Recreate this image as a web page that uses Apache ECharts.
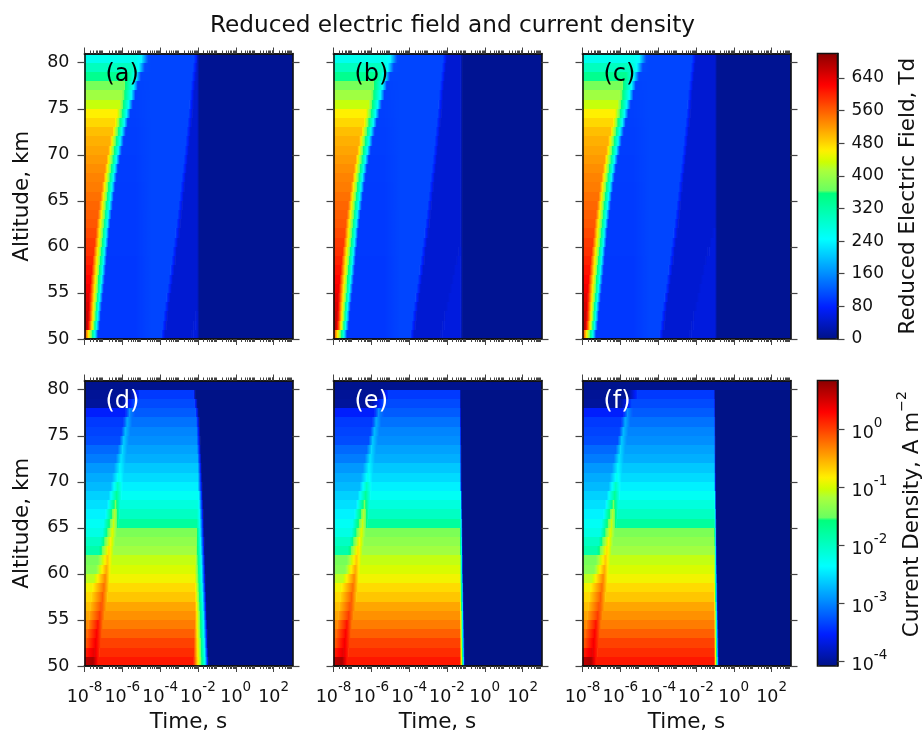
<!DOCTYPE html>
<html>
<head>
<meta charset="utf-8">
<title>Reduced electric field and current density</title>
<script src="https://cdn.jsdelivr.net/npm/echarts@6/dist/echarts.min.js"></script>
<style>
  html, body { margin: 0; padding: 0; background: #fff; }
  #chart { width: 922px; height: 730px; }
</style>
</head>
<body>
<div id="chart"></div>
<script>
// ---------- data, one entry per 1 km altitude band (lower edge) ---------- //
const altitudes = [50,51,52,53,54,55,56,57,58,59,60,61,62,63,64,65,66,67,68,69,70,71,72,73,74,75,76,77,78,79,80];

// reduced electric field, Td. Time is log10(seconds)
const fieldPlateau = [570,665,655,648,640,630,620,610,600,590,585,575,565,560,555,548,540,535,528,520,512,505,495,478,462,430,405,375,340,300,260];
const fieldFrontStart = [-7.95,-7.85,-7.8,-7.78,-7.75,-7.72,-7.68,-7.62,-7.58,-7.52,-7.46,-7.4,-7.35,-7.28,-7.22,-7.15,-7.08,-7.0,-6.92,-6.84,-6.74,-6.64,-6.52,-6.4,-6.28,-6.15,-6.05,-5.9,-5.7,-5.5,-5.35];
const fieldFrontCyan = [-7.45,-7.36,-7.3,-7.26,-7.2,-7.15,-7.1,-7.05,-7.0,-6.96,-6.9,-6.86,-6.8,-6.75,-6.68,-6.62,-6.55,-6.48,-6.4,-6.32,-6.22,-6.12,-6.02,-5.9,-5.78,-5.66,-5.52,-5.4,-5.28,-5.12,-5.0];
const fieldFrontEnd = [-7.3,-7.22,-7.16,-7.12,-7.06,-7.01,-6.96,-6.91,-6.86,-6.82,-6.76,-6.72,-6.66,-6.6,-6.53,-6.47,-6.4,-6.33,-6.25,-6.16,-6.06,-5.96,-5.85,-5.73,-5.6,-5.48,-5.33,-5.2,-5.05,-4.85,-4.68];
const fieldAfterFront = [96,96,96,96,96,96,96,96,96,97,97,97,97,97,98,98,98,99,99,99,100,100,100,101,102,102,103,104,106,110,114];
const fieldStepOne = [-3.95,-3.88,-3.82,-3.75,-3.68,-3.6,-3.54,-3.47,-3.4,-3.34,-3.27,-3.2,-3.14,-3.08,-3.03,-2.97,-2.92,-2.86,-2.8,-2.75,-2.7,-2.65,-2.6,-2.55,-2.5,-2.46,-2.42,-2.37,-2.32,-2.27,-2.22];
const fieldWedge = [-2.35,-2.25,-2.15,-2.05,-1.95,-1.85,-1.75,-1.65,-1.52,-1.4,-1.28,-1.15,-1.02];
const fieldStepTwo = [-2.05, -1.3, -1.0];
const fieldMiddle = 106;
const fieldShelf = 48;
const fieldWedgeTop = 56;
const fieldTail = 7;

// current density, log10(A m-2)
const currentLeft = [0.6,0.15,-0.1,-0.2,-0.35,-0.48,-0.6,-0.73,-0.88,-1.1,-1.38,-1.45,-1.85,-2.0,-2.2,-2.3,-2.42,-2.52,-2.6,-2.72,-2.8,-2.9,-3.05,-3.15,-3.3,-3.35,-3.4,-3.55,-4.0,-4.02,-4.05];
const currentStreakStart = [-8,-7.95,-7.9,-7.85,-7.8,-7.75,-7.7,-7.65,-7.6,-7.5,-7.4,-7.3,-7.25,-7.15,-7.05,-7.0,-6.9,-6.8,-6.72,-6.62,-6.55,-6.45,-6.35,-6.25,-6.15,-6.05,-5.95,-5.85,-6.0,-5.6];
const currentStreakPeak = [-7.55,-7.48,-7.42,-7.36,-7.3,-7.2,-7.12,-7.05,-6.98,-6.92,-6.86,-6.8,-6.72,-6.64,-6.55,-6.47,-6.41,-6.37,-6.31,-6.26,-6.2,-6.14,-6.08,-6.01,-5.94,-5.86,-5.76,-5.64,-5.4,-5.1];
const currentPeak = [0.72,0.45,0.38,0.33,0.25,0.05,-0.05,-0.12,-0.2,-0.3,-0.45,-0.6,-0.7,-0.8,-0.9,-1.0,-1.1,-1.4,-1.7,-1.95,-2.25,-2.38,-2.48,-2.55,-2.62,-2.7,-2.78,-2.95,-3.31,-3.4];
const currentStreakEnd = [-7.3,-7.22,-7.16,-7.1,-7.04,-6.95,-6.87,-6.8,-6.73,-6.67,-6.61,-6.55,-6.47,-6.39,-6.3,-6.22,-6.17,-6.13,-6.06,-6.0,-5.94,-5.88,-5.82,-5.76,-5.68,-5.6,-5.5,-5.38,-5.4,-5.1];
const currentPlateau = [0.2,0.1,0,-0.14,-0.28,-0.38,-0.48,-0.63,-0.73,-0.88,-0.98,-1.07,-1.22,-1.32,-1.42,-1.77,-2.0,-2.16,-2.3,-2.43,-2.55,-2.65,-2.78,-2.85,-2.95,-3.0,-3.1,-3.22,-3.31,-3.4,-4.05];
const currentFloor = -4.086;

// where the current is cut off in (d), (e) and (f)
const cutStartD = [-2.25,-2.24,-2.22,-2.2,-2.18,-2.16,-2.16,-2.16,-2.16,-2.16,-2.16,-2.14,-2.12,-2.1,-2.08,-2.07,-2.05,-2.03,-2.02,-2.01,-2.0,-2.01,-2.03,-2.05,-2.07,-2.08,-2.1,-2.14,-2.2,-2.25];
const cutMidD = [-1.63,-1.65,-1.67,-1.69,-1.7,-1.72,-1.74,-1.76,-1.78,-1.8,-1.81,-1.83,-1.85,-1.87,-1.89,-1.9,-1.92,-1.94,-1.95];
const cutEndD = [-1.46,-1.48,-1.5,-1.51,-1.53,-1.55,-1.57,-1.58,-1.6,-1.62,-1.63,-1.64,-1.66,-1.67,-1.69,-1.7,-1.72,-1.74,-1.76,-1.78,-1.8,-1.82,-1.84,-1.86,-1.88,-1.9,-1.93,-1.97,-2.03,-2.15];
const cutStartE = [-1.32,-1.32,-1.32,-1.32,-1.32,-1.32,-1.32,-1.32,-1.32,-1.32,-1.32,-1.32,-1.32,-1.32,-1.32,-1.32,-1.32,-1.32,-1.32,-1.32,-1.32,-1.32,-1.32,-1.32,-1.32,-1.32,-1.32,-1.32,-1.32,-1.32];
const cutMidE = [-1.14,-1.15,-1.16,-1.17,-1.17,-1.18,-1.19,-1.2,-1.2,-1.21,-1.22,-1.22,-1.23,-1.24,-1.25,-1.25,-1.26,-1.26,-1.27];
const cutEndE = [-1.07,-1.08,-1.09,-1.1,-1.11,-1.12,-1.13,-1.14,-1.15,-1.16,-1.17,-1.17,-1.18,-1.19,-1.19,-1.2,-1.21,-1.22,-1.22,-1.23,-1.24,-1.24,-1.25,-1.25,-1.26,-1.26,-1.27,-1.27,-1.28,-1.28];
const cutStartF = [-1.04,-1.04,-1.04,-1.04,-1.04,-1.04,-1.04,-1.04,-1.04,-1.04,-1.04,-1.04,-1.04,-1.04,-1.04,-1.04,-1.04,-1.04,-1.04,-1.04,-1.04,-1.04,-1.04,-1.04,-1.04,-1.04,-1.04,-1.04,-1.04,-1.04];
const cutMidF = [-0.88,-0.89,-0.9,-0.91,-0.91,-0.92,-0.93,-0.94,-0.94,-0.95,-0.96,-0.96,-0.97,-0.98,-0.98,-0.99,-0.99,-1.0,-1.0];
const cutEndF = [-0.8,-0.81,-0.82,-0.83,-0.84,-0.85,-0.86,-0.87,-0.88,-0.89,-0.9,-0.91,-0.91,-0.92,-0.93,-0.93,-0.94,-0.95,-0.95,-0.96,-0.96,-0.97,-0.97,-0.98,-0.98,-0.99,-0.99,-1.0,-1.0,-1.01];

// axes
const timeTicks = [-8,-6,-4,-2,0,2];
const altitudeTicks = [50,55,60,65,70,75,80];
const fieldTicks = [0,80,160,240,320,400,480,560,640];
const currentTicks = [-4,-3,-2,-1,0];
const panelNames = ['(a)','(b)','(c)','(d)','(e)','(f)'];

// colour map: jet with the jump in the green the original has
const mapPositions = [0, 0.11, 0.35, 0.513, 0.514, 0.59, 0.62, 0.66, 0.89, 1];
const mapColors = [[0,18,135],[0,30,255],[0,255,255],[0,255,122],[100,255,100],[170,255,60],[205,255,0],[255,240,0],[255,0,0],[140,0,0]];

const FONT = 'DejaVu Sans';
const DARK = '#111';
const TICK = '#444';

// ----------------- functions ----------------- //
const mapColor = (p) => {
  p = Math.min(1, Math.max(0, p));
  let i = 0;
  while (i < mapPositions.length - 2 && p > mapPositions[i + 1]) i++;
  const k = (p - mapPositions[i]) / (mapPositions[i + 1] - mapPositions[i]);
  const c = mapColors[i].map((a, j) => Math.round(a + (mapColors[i + 1][j] - a) * k));
  return 'rgb(' + c.join(',') + ')';
};

// samples for the colorbars only
const rampColors = [];
for (let s = 0; s <= 280; s++) rampColors.push(mapColor(s / 280));

const fieldStops = (i, stepTwo) => {
  const s = [-8, fieldPlateau[i], fieldFrontStart[i], fieldPlateau[i], fieldFrontCyan[i], 240, fieldFrontEnd[i], fieldAfterFront[i]];
  if (fieldFrontEnd[i] < -5.3) s.push(-5.3, fieldAfterFront[i]);
  s.push(-4.5, fieldMiddle);
  s.push(fieldStepOne[i], fieldMiddle, fieldStepOne[i] + 0.2, fieldShelf);
  const w = fieldWedge[i];
  if (w !== undefined && w < stepTwo - 0.05) {
    s.push(w, fieldShelf, w + 0.1, fieldWedgeTop, stepTwo, fieldWedgeTop);
  } else {
    s.push(stepTwo, fieldShelf);
  }
  s.push(stepTwo + 0.1, fieldTail, 3, fieldTail);
  return s;
};

const currentStops = (i, cutStart, cutMid, cutEnd) => {
  if (cutStart[i] === undefined) return [-8, currentPlateau[i], 3, currentPlateau[i]];
  const s = [-8, currentLeft[i]];
  if (currentStreakPeak[i] !== undefined) {
    if (currentStreakStart[i] > -8) s.push(currentStreakStart[i], currentLeft[i]);
    s.push(currentStreakPeak[i], currentPeak[i]);
    s.push(currentStreakEnd[i], currentPlateau[i]);
  }
  s.push(cutStart[i], currentPlateau[i]);
  if (cutMid[i] !== undefined) s.push(cutMid[i], -2.4);
  s.push(cutEnd[i], currentFloor, 3, currentFloor);
  return s;
};

// stops of each band -> [t0, t1, altitude, v0, v1]
const toCells = (stopsOf) => {
  const cells = [];
  altitudes.forEach((alt, i) => {
    const s = stopsOf(i);
    for (let k = 0; k + 3 < s.length; k += 2) {
      cells.push([s[k], s[k + 2], alt, s[k + 1], s[k + 3]]);
    }
  });
  return cells;
};

const renderBand = (lo, hi) => (params, api) => {
  const a = api.coord([api.value(0), api.value(2) + 1]);
  const b = api.coord([api.value(1), api.value(2)]);
  const v0 = api.value(3);
  const v1 = api.value(4);
  const colorStops = [];
  for (let n = 0; n <= 16; n++) {
    const v = v0 + (v1 - v0) * n / 16;
    colorStops.push({ offset: n / 16, color: mapColor((v - lo) / (hi - lo)) });
  }
  const y0 = Math.round(a[1]);
  const y1 = Math.round(b[1]);
  return {
    type: 'rect',
    shape: { x: a[0], y: y0, width: b[0] - a[0] + 0.6, height: y1 - y0 },
    style: { fill: { type: 'linear', x: 0, y: 0, x2: 1, y2: 0, colorStops: colorStops } },
    silent: true
  };
};

const timeLabel = (v) => '{b|10}{s|' + Math.round(v) + '}';
const labelRich = {
  b: { fontFamily: FONT, fontSize: 17.5, color: DARK, verticalAlign: 'bottom', lineHeight: 26 },
  s: { fontFamily: FONT, fontSize: 13.5, color: DARK, verticalAlign: 'top', lineHeight: 14 }
};

// minor ticks at 2..9 of every decade
const minorTime = [];
for (let d = -8; d < 3; d++) {
  [2,3,4,5,6,7,8,9].forEach((m) => minorTime.push(d + Math.log10(m)));
}

// ----------------- layout ----------------- //
const lefts = [84.5, 333.5, 582.5];
const tops = [53.5, 380.5];
const grid = [];
const xAxis = [];
const yAxis = [];
const series = [];
const title = [{
  text: 'Reduced electric field and current density',
  left: 447.5, top: 9, textAlign: 'center',
  textStyle: { fontFamily: FONT, fontSize: 23.2, fontWeight: 'normal', color: DARK }
}];

const frameLine = { show: true, onZero: false, lineStyle: { color: DARK, width: 1.6 } };
const timeAxis = (gridIndex, position, major, withLabels) => ({
  type: 'value', gridIndex, position, min: -8, max: 3,
  z: 10,
  axisLine: frameLine,
  splitLine: { show: false },
  axisTick: {
    show: true, customValues: major ? timeTicks : minorTime, length: major ? 6 : 3,
    lineStyle: { color: TICK, width: 1 }
  },
  axisLabel: withLabels
    ? { show: true, customValues: timeTicks, formatter: timeLabel, rich: labelRich, margin: 14 }
    : { show: false },
  name: withLabels ? 'Time, s' : '',
  nameLocation: 'middle',
  nameGap: 45,
  nameTextStyle: { fontFamily: FONT, fontSize: 21.5, color: DARK }
});

const altitudeAxis = (gridIndex, position, withLabels) => ({
  type: 'value', gridIndex, position, min: 50, max: 81,
  z: 10,
  axisLine: frameLine,
  splitLine: { show: false },
  axisTick: { show: true, customValues: altitudeTicks, length: 7, lineStyle: { color: TICK, width: 1.2 } },
  axisLabel: withLabels
    ? { show: true, customValues: altitudeTicks, fontFamily: FONT, fontSize: 17.5, color: DARK, margin: 15 }
    : { show: false },
  name: withLabels ? 'Altitude, km' : '',
  nameLocation: 'middle',
  nameGap: 51,
  nameTextStyle: { fontFamily: FONT, fontSize: 21.5, color: DARK }
});

panelNames.forEach((name, p) => {
  const col = p % 3;
  const row = p < 3 ? 0 : 1;
  grid.push({ left: lefts[col], top: tops[row], width: 208, height: 285.5, outerBoundsMode: 'none' });
  const x0 = xAxis.length;
  xAxis.push(timeAxis(p, 'bottom', true, row === 1));
  xAxis.push(timeAxis(p, 'bottom', false, false));
  xAxis.push(timeAxis(p, 'top', true, false));
  xAxis.push(timeAxis(p, 'top', false, false));
  const y0 = yAxis.length;
  yAxis.push(altitudeAxis(p, 'left', col === 0));
  yAxis.push(altitudeAxis(p, 'right', false));

  let cells;
  if (row === 0) {
    cells = toCells((i) => fieldStops(i, fieldStepTwo[col]));
  } else {
    const cut = [[cutStartD, cutMidD, cutEndD], [cutStartE, cutMidE, cutEndE], [cutStartF, cutMidF, cutEndF]][col];
    cells = toCells((i) => currentStops(i, cut[0], cut[1], cut[2]));
  }
  series.push({
    type: 'custom',
    xAxisIndex: x0,
    yAxisIndex: y0,
    coordinateSystem: 'cartesian2d',
    animation: false,
    silent: true,
    renderItem: row === 0 ? renderBand(0, 700) : renderBand(currentFloor, 0.85),
    data: cells
  });
  title.push({
    text: name,
    left: lefts[col] + 16, top: tops[row] + 4,
    textStyle: { fontFamily: FONT, fontSize: 24, fontWeight: 'normal', color: row === 0 ? '#000' : '#fff' }
  });
});

// colorbars: visualMap draws the ramp, an empty grid carries frame and axis
const colorbarAxis = (gridIndex, min, max, ticks, formatter, name, gap, namePadding) => ({
  type: 'value', gridIndex, position: 'right', min, max,
  z: 10,
  axisLine: frameLine,
  splitLine: { show: false },
  axisTick: { show: true, customValues: ticks, length: 7, lineStyle: { color: TICK, width: 1.2 } },
  axisLabel: { show: true, customValues: ticks, formatter, rich: labelRich, fontFamily: FONT, fontSize: 17, color: DARK, margin: 14 },
  name,
  nameLocation: 'middle',
  nameRotate: 90,
  nameGap: gap,
  nameTextStyle: {
    fontFamily: FONT, fontSize: 21.5, color: DARK, padding: namePadding,
    rich: {
      t: { fontFamily: FONT, fontSize: 21.5, color: DARK, verticalAlign: 'bottom', lineHeight: 28 },
      u: { fontFamily: FONT, fontSize: 14, color: DARK, verticalAlign: 'top', lineHeight: 14 }
    }
  }
});

[tops[0], tops[1]].forEach((top, k) => {
  grid.push({
    left: 817.5, top, width: 20, height: 285.5, outerBoundsMode: 'none',
    show: true, z: 5, backgroundColor: 'transparent', borderColor: DARK, borderWidth: 1.6
  });
  xAxis.push({
    type: 'value', gridIndex: 6 + k, min: 0, max: 1,
    axisLine: { show: false }, axisTick: { show: false }, axisLabel: { show: false }, splitLine: { show: false }
  });
});
yAxis.push(colorbarAxis(6, 0, 700, fieldTicks, undefined, 'Reduced Electric Field, Td', 60, 0));
yAxis.push(colorbarAxis(7, currentFloor, 0.85, currentTicks, timeLabel, '{t|Current Density, A m}{u|−2}', 58, [0, 0, 0, 18]));

const colorbar = (top, min, max) => ({
  type: 'continuous',
  seriesIndex: [],
  left: 817.5, top,
  itemWidth: 20, itemHeight: 285.5,
  min, max,
  padding: 0,
  calculable: false,
  hoverLink: false,
  inRange: { color: rampColors }
});

const chart = echarts.init(document.getElementById('chart'), null, { renderer: 'canvas' });
chart.setOption({
  animation: false,
  backgroundColor: '#fff',
  title,
  grid,
  xAxis,
  yAxis,
  series,
  visualMap: [colorbar(tops[0], 0, 700), colorbar(tops[1], currentFloor, 0.85)]
});
</script>
</body>
</html>
